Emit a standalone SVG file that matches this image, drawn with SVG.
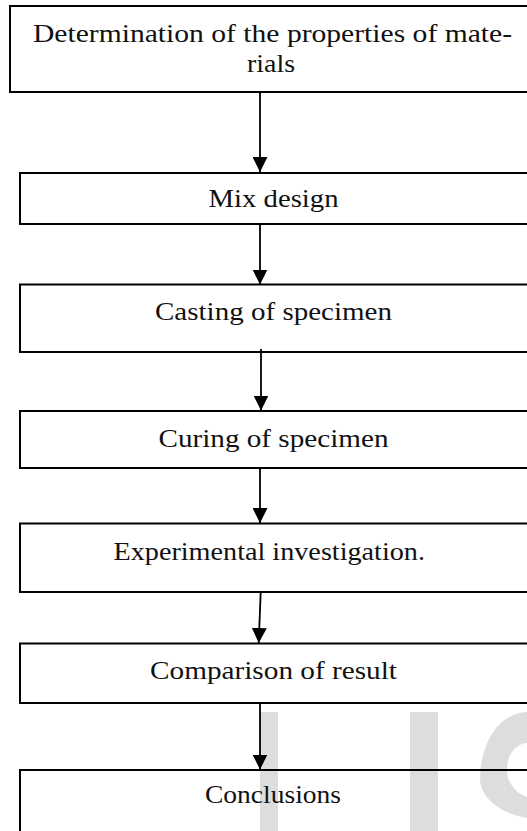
<svg xmlns="http://www.w3.org/2000/svg" width="527" height="831" viewBox="0 0 527 831">
<style>
.box{fill:none;stroke:#000;stroke-width:2}
.lbl{font-family:"Liberation Serif",serif;font-size:26px;fill:#111}
.wm{fill:#dddddd;stroke:none}
.edge{stroke:#000;stroke-width:1.8;fill:none;marker-end:url(#ah)}
</style>
<defs>
<marker id="ah" markerUnits="userSpaceOnUse" markerWidth="15" markerHeight="15" refX="15" refY="7.5" orient="auto" viewBox="0 0 15 15">
<path d="M0 0 L15 7.5 L0 15 Z" fill="#000"/>
</marker>
</defs>
<g id="watermark">
<rect class="wm" x="260" y="712" width="18" height="119"/>
<rect class="wm" x="410" y="712" width="28" height="119"/>
<path class="wm" d="M527 712 C498 713 480 745 480 780 C481 800 505 815 527 818 L527 797 C515 793 507 782 507 770 C507 755 515 744 527 743 Z"/>
</g>
<g id="n1">
<rect class="box" x="10" y="6" width="530" height="86"/>
<text class="lbl" x="33" y="42" textLength="479" lengthAdjust="spacingAndGlyphs">Determination of the properties of mate-</text>
<text class="lbl" x="247" y="72" textLength="48" lengthAdjust="spacingAndGlyphs">rials</text>
</g>
<g id="n2">
<rect class="box" x="20" y="173" width="520" height="51"/>
<text class="lbl" x="208.5" y="207" textLength="130" lengthAdjust="spacingAndGlyphs">Mix design</text>
</g>
<g id="n3">
<rect class="box" x="20" y="284.5" width="520" height="67.5"/>
<text class="lbl" x="155" y="320" textLength="237" lengthAdjust="spacingAndGlyphs">Casting of specimen</text>
</g>
<g id="n4">
<rect class="box" x="20" y="411" width="520" height="57"/>
<text class="lbl" x="158.5" y="447" textLength="230" lengthAdjust="spacingAndGlyphs">Curing of specimen</text>
</g>
<g id="n5">
<rect class="box" x="20" y="523.5" width="520" height="68.5"/>
<text class="lbl" x="113.5" y="560" textLength="311.5" lengthAdjust="spacingAndGlyphs">Experimental investigation.</text>
</g>
<g id="n6">
<rect class="box" x="20" y="643.5" width="520" height="59.5"/>
<text class="lbl" x="150" y="679" textLength="247" lengthAdjust="spacingAndGlyphs">Comparison of result</text>
</g>
<g id="n7">
<rect class="box" x="20" y="770" width="520" height="80"/>
<text class="lbl" x="205" y="803" textLength="136" lengthAdjust="spacingAndGlyphs">Conclusions</text>
</g>
<g id="connectors">
<path class="edge" d="M260 92 L260 172"/>
<path class="edge" d="M260 224 L260 284.5"/>
<path class="edge" d="M261 349 L261 410.5"/>
<path class="edge" d="M260 468 L260 523"/>
<path class="edge" d="M260.7 592 L258.7 643"/>
<path class="edge" d="M260 702 L260 769.5"/>
</g>
</svg>
